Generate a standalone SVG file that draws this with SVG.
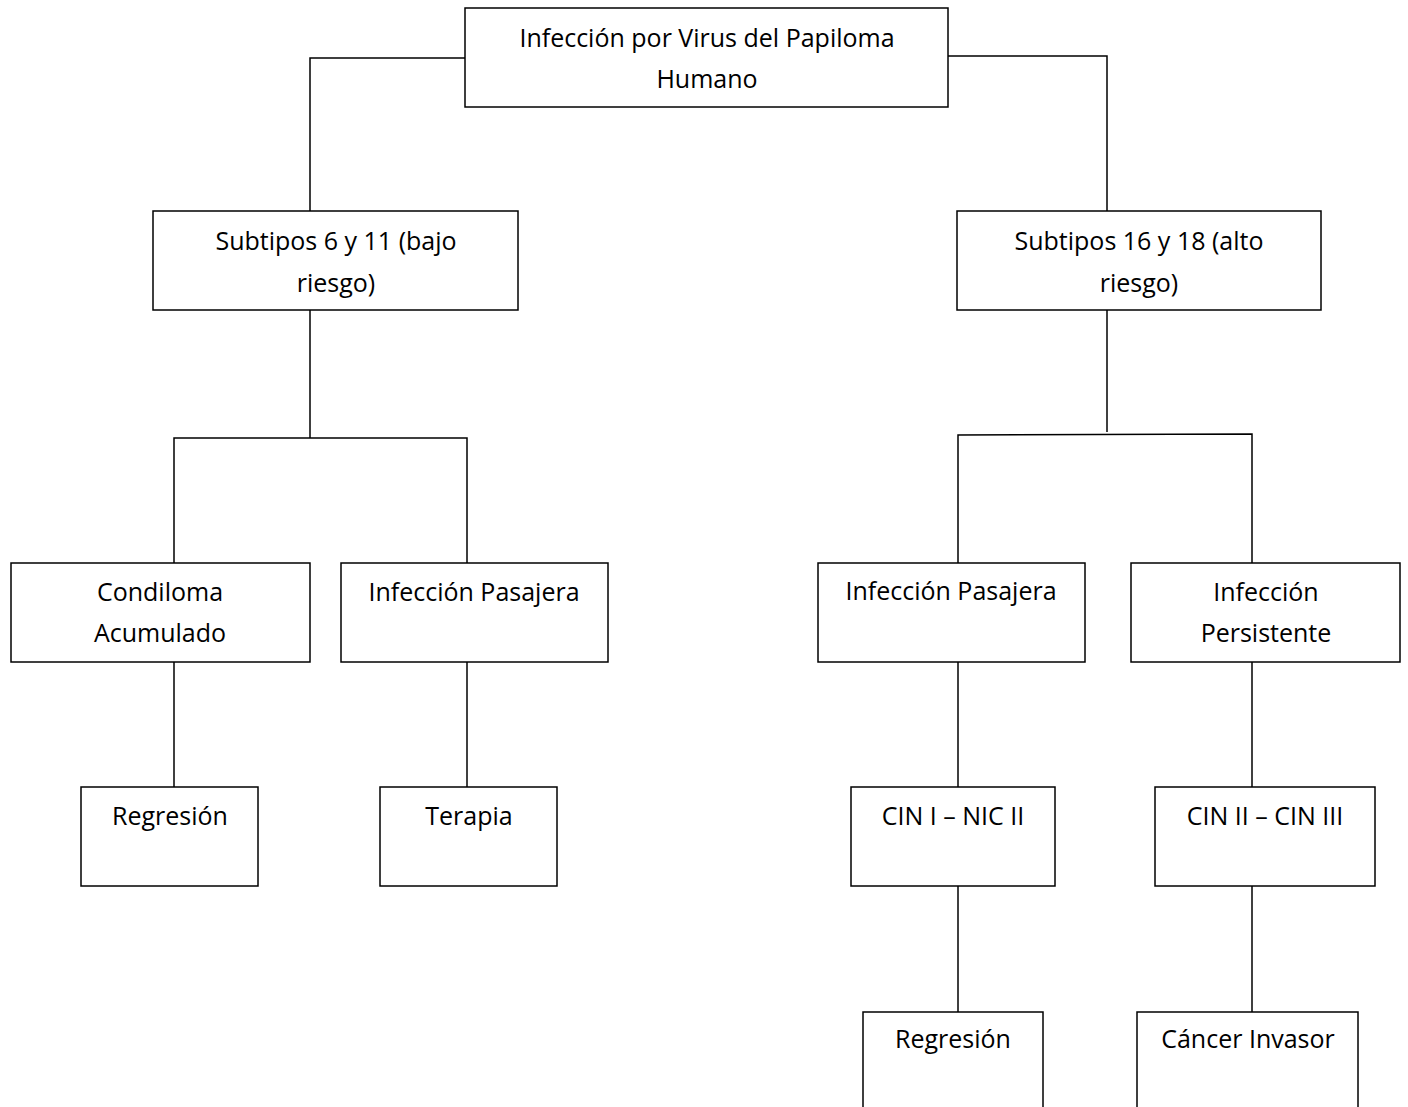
<svg xmlns="http://www.w3.org/2000/svg" width="1408" height="1107" viewBox="0 0 1408 1107">
<style>
.box{fill:#fff;stroke:#000;stroke-width:1.5}
.t{font-family:"Open Sans","Noto Sans","Liberation Sans",sans-serif;font-size:25px;fill:#000;text-anchor:middle}
.c{fill:none;stroke:#000;stroke-width:1.5}
</style>
<rect width="1408" height="1107" fill="#fff"/>
<g id="connectors">
<polyline class="c" points="465,58 310,58 310,211"/>
<polyline class="c" points="948,56 1107,56 1107,211"/>
<line class="c" x1="310" y1="310" x2="310" y2="438"/>
<polyline class="c" points="174,563 174,438 467,438 467,563"/>
<line class="c" x1="1107" y1="306" x2="1107" y2="432"/>
<polyline class="c" points="958,563 958,435 1252,434 1252,563"/>
<line class="c" x1="174" y1="662" x2="174" y2="787"/>
<line class="c" x1="467" y1="662" x2="467" y2="787"/>
<line class="c" x1="958" y1="662" x2="958" y2="787"/>
<line class="c" x1="1252" y1="662" x2="1252" y2="787"/>
<line class="c" x1="958" y1="886" x2="958" y2="1012"/>
<line class="c" x1="1252" y1="886" x2="1252" y2="1012"/>
</g>
<g id="root"><rect class="box" x="465" y="8" width="483" height="99"/><text class="t" x="707" y="47">Infección por Virus del Papiloma</text><text class="t" x="707" y="88">Humano</text></g>
<g id="low"><rect class="box" x="153" y="211" width="365" height="99"/><text class="t" x="336" y="250">Subtipos 6 y 11 (bajo</text><text class="t" x="336" y="292">riesgo)</text></g>
<g id="high"><rect class="box" x="957" y="211" width="364" height="99"/><text class="t" x="1139" y="250">Subtipos 16 y 18 (alto</text><text class="t" x="1139" y="292">riesgo)</text></g>
<g id="condiloma"><rect class="box" x="11" y="563" width="299" height="99"/><text class="t" x="160" y="601">Condiloma</text><text class="t" x="160" y="642">Acumulado</text></g>
<g id="pasajera1"><rect class="box" x="341" y="563" width="267" height="99"/><text class="t" x="474" y="601">Infección Pasajera</text></g>
<g id="regresion1"><rect class="box" x="81" y="787" width="177" height="99"/><text class="t" x="170" y="825">Regresión</text></g>
<g id="terapia"><rect class="box" x="380" y="787" width="177" height="99"/><text class="t" x="469" y="825">Terapia</text></g>
<g id="pasajera2"><rect class="box" x="818" y="563" width="267" height="99"/><text class="t" x="951" y="600">Infección Pasajera</text></g>
<g id="persistente"><rect class="box" x="1131" y="563" width="269" height="99"/><text class="t" x="1266" y="601">Infección</text><text class="t" x="1266" y="642">Persistente</text></g>
<g id="cin1"><rect class="box" x="851" y="787" width="204" height="99"/><text class="t" x="953" y="825">CIN I – NIC II</text></g>
<g id="cin2"><rect class="box" x="1155" y="787" width="220" height="99"/><text class="t" x="1265" y="825">CIN II – CIN III</text></g>
<g id="regresion2"><rect class="box" x="863" y="1012" width="180" height="110"/><text class="t" x="953" y="1048">Regresión</text></g>
<g id="cancer"><rect class="box" x="1137" y="1012" width="221" height="110"/><text class="t" x="1248" y="1048">Cáncer Invasor</text></g>
</svg>
